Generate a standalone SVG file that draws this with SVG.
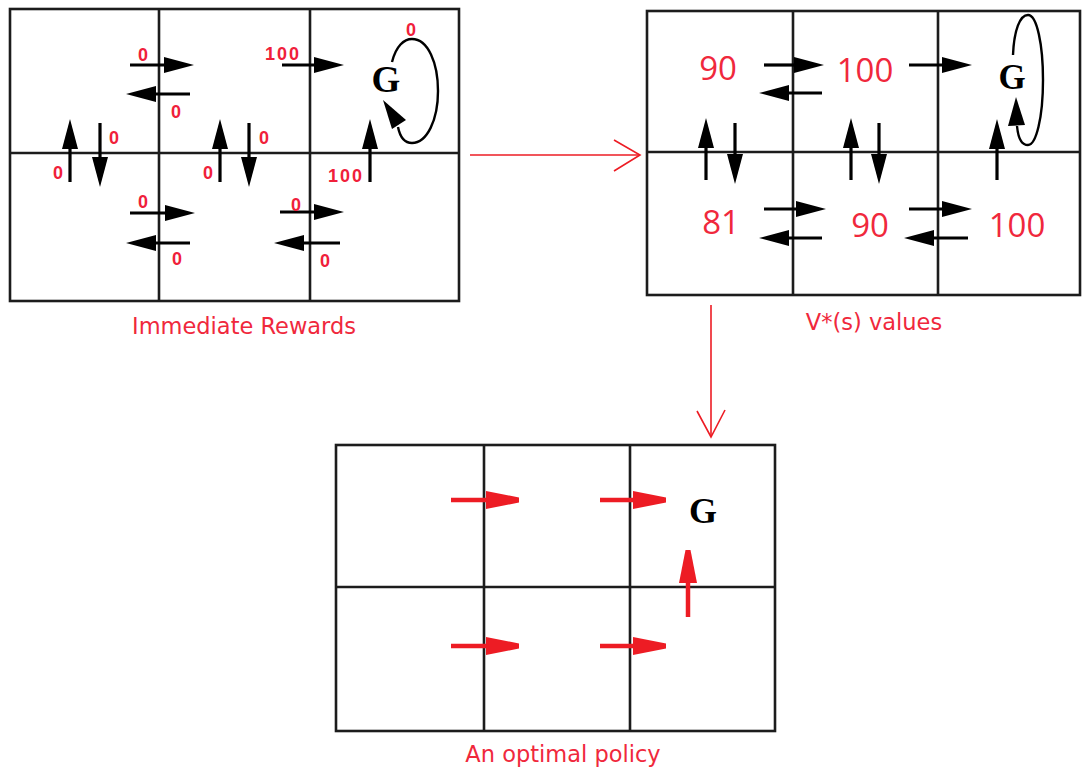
<svg xmlns="http://www.w3.org/2000/svg" width="1082" height="772" viewBox="0 0 1082 772">
<style>
.grid{fill:none;stroke:#1c1c1c;stroke-width:2.6}
.sh{stroke:#000;stroke-width:3.2;fill:none}
.rsh{stroke:#ed1c24;stroke-width:4.5;fill:none}
.rh{fill:#ed1c24}
.loop{fill:none;stroke:#000;stroke-width:2.4}
.lbl{font-family:"Liberation Sans",Arial,sans-serif;font-size:18px;font-weight:bold;fill:#f0203a;text-anchor:middle}
.val{font-family:"Open Sans","DejaVu Sans",sans-serif;font-size:33px;fill:#f0283c;text-anchor:middle}
.cap{font-family:"DejaVu Sans",sans-serif;font-size:22.5px;fill:#f0283c;text-anchor:middle}
.goal{font-family:"Liberation Serif","Times New Roman",serif;font-weight:bold;fill:#000;text-anchor:middle}
.conn{stroke:#ed1c24;stroke-width:1.6;fill:none}
</style>
<defs>
<marker id="ah" viewBox="0 0 30 16" markerWidth="30" markerHeight="16" refX="1" refY="8" orient="auto" markerUnits="userSpaceOnUse">
<path d="M0,0 L30,8 L0,16 z" fill="#000"/>
</marker>
</defs>
<rect width="1082" height="772" fill="#fff"/>

<g id="immediate-rewards">
<rect class="grid" x="10" y="9" width="449" height="292"/>
<line class="grid" x1="159" y1="9" x2="159" y2="301"/>
<line class="grid" x1="310" y1="9" x2="310" y2="301"/>
<line class="grid" x1="10" y1="153" x2="459" y2="153"/>
<g marker-end="url(#ah)" class="sh">
<line x1="130" y1="65" x2="165" y2="65"/>
<line x1="190" y1="94" x2="155" y2="94"/>
<line x1="282" y1="65" x2="315" y2="65"/>
<line x1="70" y1="182" x2="70" y2="148"/>
<line x1="100" y1="123" x2="100" y2="158"/>
<line x1="220" y1="182" x2="220" y2="148"/>
<line x1="249" y1="123" x2="249" y2="158"/>
<line x1="370" y1="182" x2="370" y2="148"/>
<line x1="130" y1="213" x2="166" y2="213"/>
<line x1="190" y1="243" x2="155" y2="243"/>
<line x1="280" y1="212" x2="315" y2="212"/>
<line x1="340" y1="243" x2="303" y2="243"/>
</g>
<path class="loop" d="M392,62 C396,46 404,39 412,39 C428,39 438,63 438,91 C438,120 427,143 412,143 C404,143 400,137 398,127"/>
<polygon points="383,100 406,120 392,129" fill="#000"/>
<text class="goal" x="386" y="92" font-size="37">G</text>
<text class="lbl" x="143" y="61">0</text>
<text class="lbl" x="176" y="118">0</text>
<text class="lbl" x="283" y="60" letter-spacing="2">100</text>
<text class="lbl" x="411" y="36">0</text>
<text class="lbl" x="58" y="179">0</text>
<text class="lbl" x="114" y="144">0</text>
<text class="lbl" x="208" y="179">0</text>
<text class="lbl" x="264" y="144">0</text>
<text class="lbl" x="346" y="182" letter-spacing="2">100</text>
<text class="lbl" x="143" y="208">0</text>
<text class="lbl" x="177" y="265">0</text>
<text class="lbl" x="296" y="211">0</text>
<text class="lbl" x="325" y="267">0</text>
<text class="cap" x="244" y="334">Immediate Rewards</text>
</g>

<g id="v-values">
<rect class="grid" x="647" y="11" width="433" height="284"/>
<line class="grid" x1="793" y1="11" x2="793" y2="295"/>
<line class="grid" x1="938" y1="11" x2="938" y2="295"/>
<line class="grid" x1="647" y1="152" x2="1080" y2="152"/>
<g marker-end="url(#ah)" class="sh">
<line x1="764" y1="65" x2="795" y2="65"/>
<line x1="822" y1="93" x2="788" y2="93"/>
<line x1="909" y1="65" x2="943" y2="65"/>
<line x1="706" y1="180" x2="706" y2="147"/>
<line x1="735" y1="123" x2="735" y2="155"/>
<line x1="851" y1="180" x2="851" y2="147"/>
<line x1="879" y1="123" x2="879" y2="155"/>
<line x1="997" y1="180" x2="997" y2="148"/>
<line x1="764" y1="209" x2="797" y2="209"/>
<line x1="822" y1="238" x2="788" y2="238"/>
<line x1="909" y1="209" x2="943" y2="209"/>
<line x1="968" y1="238" x2="933" y2="238"/>
</g>
<path class="loop" d="M1013,55 C1014,30 1020,15 1028,15 C1037,15 1043,45 1043,80 C1043,118 1036,145 1028,145 C1021,145 1018,137 1017,126"/>
<polygon points="1016,97 1025,125 1008,126" fill="#000"/>
<text class="goal" x="1012" y="89" font-size="35">G</text>
<text class="val" x="718" y="80">90</text>
<text class="val" x="865" y="82">100</text>
<text class="val" x="721" y="234">81</text>
<text class="val" x="870" y="237">90</text>
<text class="val" x="1017" y="237">100</text>
<text class="cap" x="874" y="330">V*(s) values</text>
</g>

<g id="optimal-policy">
<rect class="grid" x="336" y="445" width="439" height="286"/>
<line class="grid" x1="484" y1="445" x2="484" y2="731"/>
<line class="grid" x1="630" y1="445" x2="630" y2="731"/>
<line class="grid" x1="336" y1="587" x2="775" y2="587"/>
<line class="rsh" x1="451" y1="500" x2="488" y2="500"/>
<polygon class="rh" points="486,491 519,497.5 519,502.5 486,509"/>
<line class="rsh" x1="600" y1="500" x2="635" y2="500"/>
<polygon class="rh" points="633,491 666,497.5 666,502.5 633,509"/>
<line class="rsh" x1="451" y1="646" x2="488" y2="646"/>
<polygon class="rh" points="486,637 519,643.5 519,648.5 486,655"/>
<line class="rsh" x1="600" y1="646" x2="635" y2="646"/>
<polygon class="rh" points="633,637 666,643.5 666,648.5 633,655"/>
<line class="rsh" x1="688" y1="617" x2="688" y2="581"/>
<polygon class="rh" points="679,583 685.5,550 690.5,550 697,583"/>
<text class="goal" x="703" y="523" font-size="36">G</text>
<text class="cap" x="563" y="762">An optimal policy</text>
</g>

<g id="connectors">
<line class="conn" x1="470" y1="155" x2="640" y2="155"/>
<polyline class="conn" points="614,140 640,155 614,171"/>
<line class="conn" x1="711" y1="305" x2="711" y2="437"/>
<polyline class="conn" points="697,411 711,437 725,410"/>
</g>
</svg>
